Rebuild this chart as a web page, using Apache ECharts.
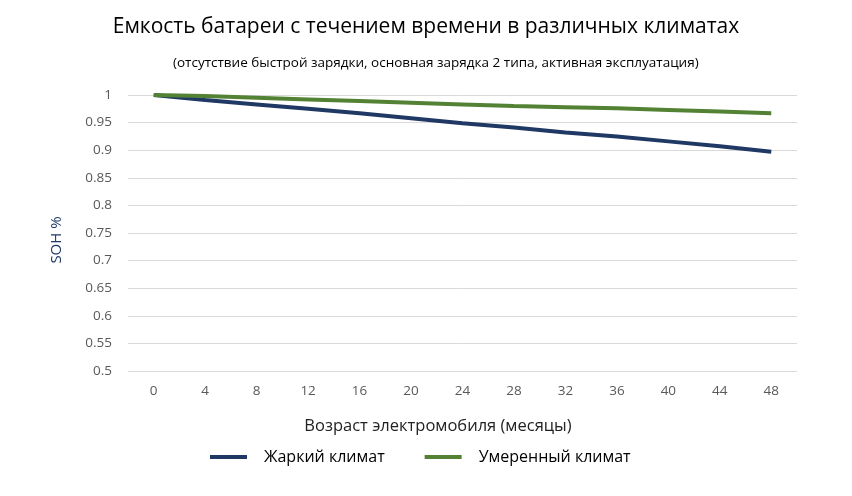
<!DOCTYPE html>
<html><head><meta charset="utf-8">
<script src="https://cdn.jsdelivr.net/npm/echarts@6/dist/echarts.min.js"></script>
<style>html,body{margin:0;padding:0;background:#fff}#c{width:852px;height:496px}</style>
</head><body><div id="c"></div>
<script>
const months = ['0','4','8','12','16','20','24','28','32','36','40','44','48'];
const hotClimate = [1, 0.991, 0.983, 0.975, 0.967, 0.958, 0.949, 0.941, 0.932, 0.925, 0.916, 0.907, 0.897];
const moderateClimate = [1, 0.998, 0.995, 0.992, 0.989, 0.986, 0.983, 0.980, 0.978, 0.976, 0.973, 0.970, 0.967];
const seriesNames = ['Жаркий климат', 'Умеренный климат'];
const font = 'Open Sans';
const chart = echarts.init(document.getElementById('c'));
chart.setOption({
  animation: false,
  title: [
    {text: 'Емкость батареи с течением времени в различных климатах', left: 'center', top: 12,
     textStyle: {fontFamily: font, fontSize: 21, fontWeight: 'normal', color: '#000'}},
    {text: '(отсутствие быстрой зарядки, основная зарядка 2 типа, активная эксплуатация)', left: 168, top: 51,
     textStyle: {fontFamily: font, fontSize: 13.5, fontWeight: 'normal', color: '#000'}}
  ],
  graphic: [
    {type: 'text', x: 57, y: 240, rotation: Math.PI / 2,
     style: {text: 'SOH %', fontFamily: font, fontSize: 15, fill: '#1f3864', align: 'center', verticalAlign: 'middle'}},
    {type: 'text', x: 438, y: 426,
     style: {text: 'Возраст электромобиля (месяцы)', fontFamily: font, fontSize: 16.5, fill: '#222', align: 'center', verticalAlign: 'middle'}}
  ],
  grid: {left: 128, right: 55, top: 95, height: 276},
  legend: {top: 444, left: 205, itemWidth: 37, itemHeight: 4, itemGap: 40,
    icon: 'rect',
    textStyle: {fontFamily: font, fontSize: 16, color: '#000', padding: [0, 0, 0, 12]}, data: seriesNames},
  xAxis: {type: 'category', data: months, boundaryGap: true,
    axisLine: {show: false}, axisTick: {show: false},
    axisLabel: {fontFamily: font, fontSize: 13.5, color: '#595959', margin: 13}},
  yAxis: {type: 'value', min: 0.5, max: 1, interval: 0.05,
    axisLine: {show: false}, axisTick: {show: false},
    axisLabel: {fontFamily: font, fontSize: 13.5, color: '#595959', margin: 16,
      formatter: v => String(+v.toFixed(2))},
    splitLine: {lineStyle: {color: '#d9d9d9', width: 1}}},
  series: [
    {name: seriesNames[0], type: 'line', data: hotClimate, symbol: 'none', smooth: false,
     lineStyle: {color: '#203864', width: 4}, itemStyle: {color: '#203864'}},
    {name: seriesNames[1], type: 'line', data: moderateClimate, symbol: 'none', smooth: false,
     lineStyle: {color: '#548235', width: 4}, itemStyle: {color: '#548235'}}
  ]
});
</script></body></html>
